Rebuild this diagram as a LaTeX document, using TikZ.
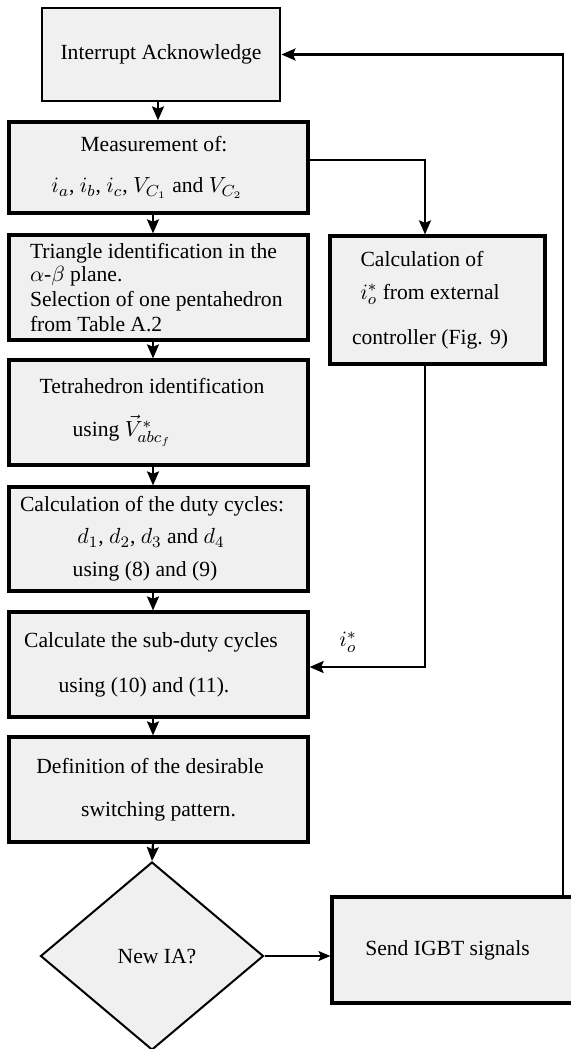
\documentclass[tikz,border=0pt]{standalone}
\usepackage{fontspec}
\setmainfont{Liberation Serif}
\usetikzlibrary{arrows.meta,shapes.geometric}
\definecolor{boxfill}{RGB}{240,240,240}
\newcommand\tsp[1]{\rule{#1}{0pt}}
\begin{document}
\begin{tikzpicture}[x=0.5pt,y=-0.5pt,
  font=\fontsize{10.8}{13}\selectfont,
  box/.style={draw, line width=1.6pt, fill=boxfill, align=center, inner sep=0pt},
  arr/.style={line width=1.1pt, -{Stealth[length=7pt,width=6pt,inset=1.2pt]}},
  arrthin/.style={line width=0.7pt, -{Stealth[length=6pt,width=5pt,inset=1.2pt]}}]
\useasboundingbox (0,0) rectangle (570,1049);

% left column
\node[box, line width=1.45pt, minimum width=119pt, minimum height=46.5pt] (ia) at (161,54.5)
  {Interrupt Acknowledge};
\node[box, minimum width=149.5pt, minimum height=45.5pt] (meas) at (158.5,167.5)
  {Measurement of:\tsp{4.5pt}\\[7.5pt] $i_a$, $i_b$, $i_c$, $V_{C_1}$ and $V_{C_2}$\tsp{11.5pt}};
\node[box, align=left, minimum width=149.5pt, minimum height=52.5pt] (tri) at (158.5,287.5)
  {Triangle identification in the\tsp{5pt}\\[-1.5pt] $\alpha$-$\beta$ plane.\\[-0.5pt] Selection of one pentahedron\\[-0.5pt] from Table A.2};
\node[box, minimum width=149.5pt, minimum height=52.5pt] (tet) at (158.5,412.5)
  {Tetrahedron identification\tsp{6.5pt}\\[8.5pt] using $\vec{V}^*_{abc_f}$\tsp{36.5pt}};
\node[box, minimum width=149.5pt, minimum height=52pt] (duty) at (158.5,539)
  {Calculation of the duty cycles:\tsp{6.5pt}\\[3pt] $d_1$, $d_2$, $d_3$ and $d_4$\tsp{7.5pt}\\[3.5pt] using (8) and (9)\tsp{13.5pt}};
\node[box, minimum width=149.5pt, minimum height=52.5pt] (sub) at (158.5,664.5)
  {Calculate the sub-duty cycles\tsp{7.5pt}\\[9.5pt] using (10) and (11).\tsp{14.5pt}};
\node[box, minimum width=149.5pt, minimum height=52.5pt] (def) at (158.5,789.5)
  {Definition of the desirable\tsp{8.5pt}\\[8.5pt] switching pattern.};
\node[box, shape=diamond, line width=1pt, minimum width=111.5pt, minimum height=94pt] (dia) at (152,956)
  {\tsp{5pt}New IA?};

% right column
\node[box, minimum width=107.5pt, minimum height=64pt] (calc) at (437.5,300)
  {Calculation of\tsp{15.5pt}\\[3.5pt] $i_o^*$ from external\tsp{7.5pt}\\[9.5pt] controller (Fig. 9)\tsp{7.5pt}};
\node[box, minimum width=124pt, minimum height=53pt] (send) at (456,950)
  {Send IGBT signals\tsp{8.5pt}};
\node (lbl) at (348,642) {$i_o^*$};

% connectors
\draw[arr] (158,0 |- ia.south) -- (158,0 |- meas.north);
\draw[arr] (153,0 |- meas.south) -- (153,0 |- tri.north);
\draw[arr] (153,0 |- tri.south) -- (153,0 |- tet.north);
\draw[arr] (153,0 |- tet.south) -- (153,0 |- duty.north);
\draw[arr] (153,0 |- duty.south) -- (153,0 |- sub.north);
\draw[arr] (153,0 |- sub.south) -- (153,0 |- def.north);
\draw[arr] (153,0 |- def.south) -- (dia.north);
\draw[arr] (meas.east |- 0,160) -| (425,0 |- calc.north);
\draw[arr] (425,0 |- calc.south) |- (sub.east |- 0,667);
\draw[arrthin] (dia.east) -- (send.west |- dia.east);
\draw[arr, line width=1.3pt] (563,0 |- send.north) |- (ia.east);
\end{tikzpicture}
\end{document}
